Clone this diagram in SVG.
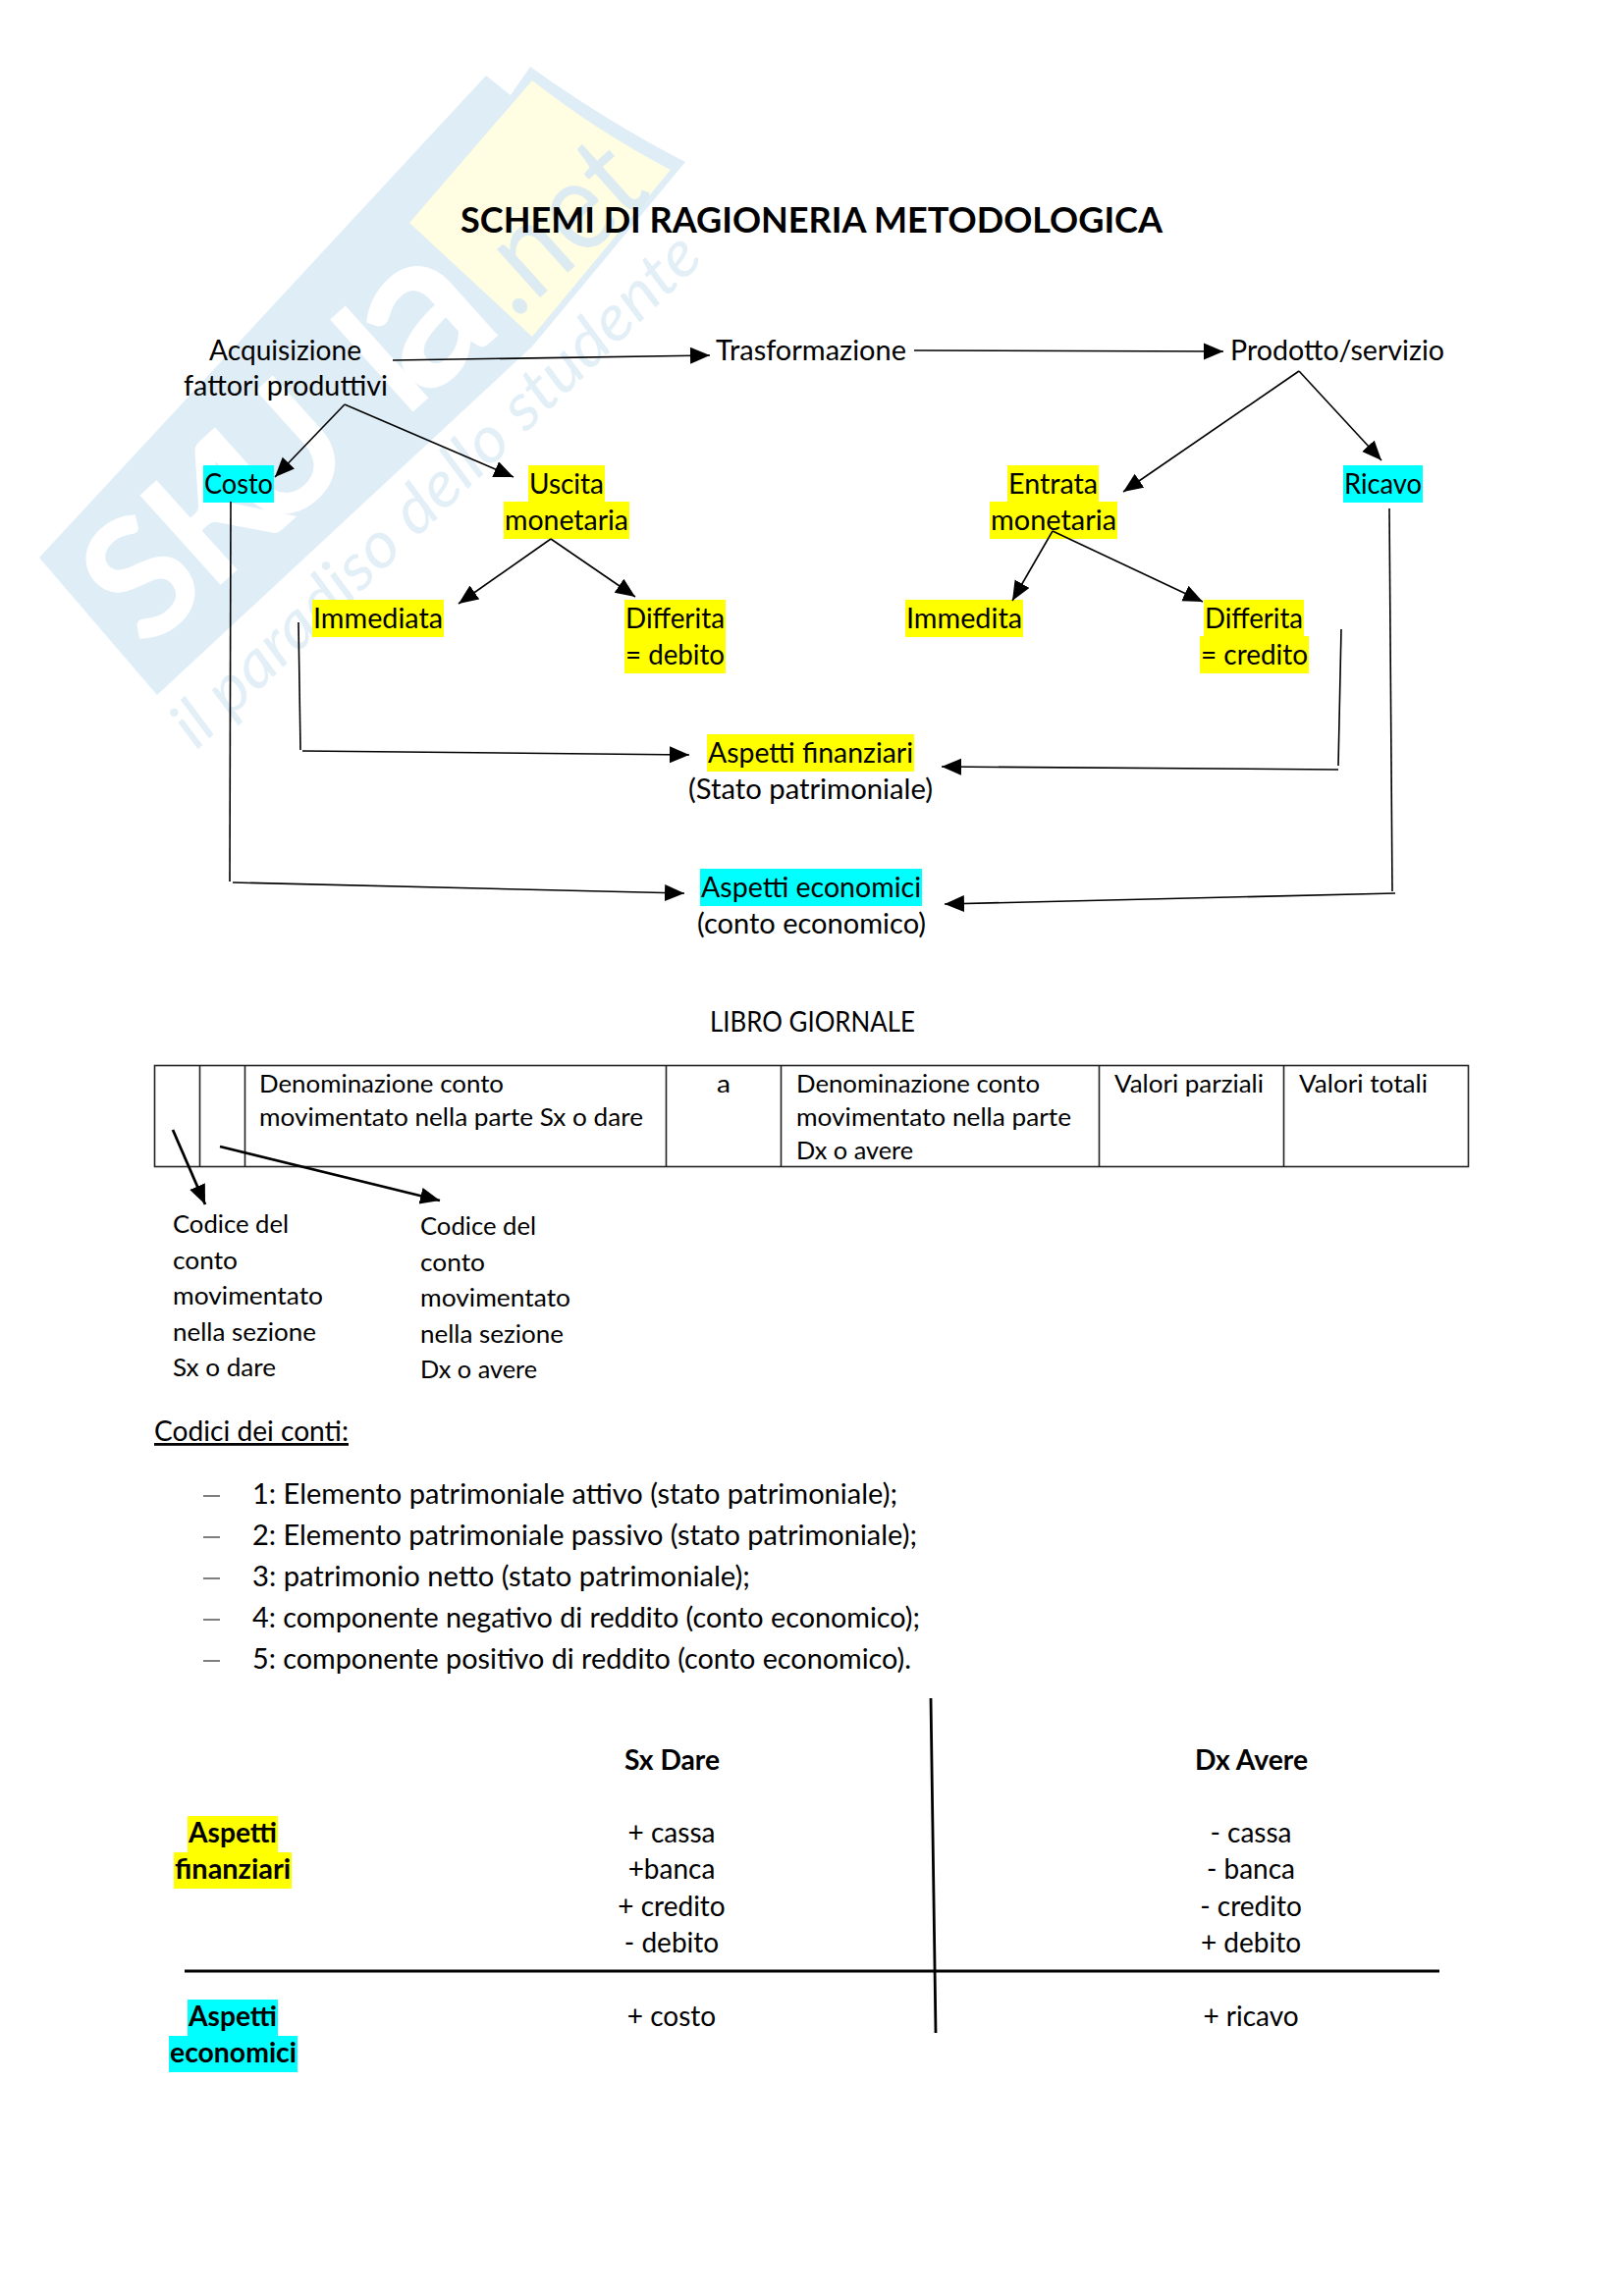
<svg xmlns="http://www.w3.org/2000/svg" width="1654" height="2339" viewBox="0 0 1654 2339">
<style>
text{font-family:Lato,"Liberation Sans",sans-serif;font-size:28px;fill:#000}
.t{font-size:25.5px}
.b{font-weight:700}
.y{fill:#ffff00}
.c{fill:#0ff}
.l{fill:none;stroke:#000;stroke-width:1.6}
.a{marker-end:url(#ah)}
.h{stroke-width:2.8}
.tb{fill:none;stroke:#222;stroke-width:1.6}
.w{font-weight:700;font-size:170px;fill:#fff}
.s{font-style:italic;font-size:66px;fill:#e3eff7}
</style>
<defs>
<marker id="ah" markerUnits="userSpaceOnUse" markerWidth="22" markerHeight="18" refX="20" refY="8.500" orient="auto"><path d="M0 0L20 8.500L0 17z" fill="#000"/></marker>
</defs>
<rect width="1654" height="2339" fill="#fff"/>
<g id="watermark">
<path d="M40 568L495 77L520 97L540 68Q620 125 698 165L542 353L160 708z" fill="#deedf6"/>
<path d="M542 82Q610 135 683 173L542 343L417 227z" fill="#fffde2"/>
<g transform="translate(149 664) rotate(-42)">
<text class="w" x="0 88 170 355">SKUl</text>
<text class="w" x="380" style="font-size:225px">a</text>
<text class="b" x="505" textLength="190" lengthAdjust="spacingAndGlyphs" style="font-size:130px;font-weight:400;fill:#dcebf2">.net</text>
</g>
<text class="s" transform="translate(200 765) rotate(-44)" textLength="720" lengthAdjust="spacingAndGlyphs">il paradiso dello studente</text>
</g>
<g id="title"><text class="b" x="469" y="237" style="font-size:36px" textLength="715" lengthAdjust="spacingAndGlyphs">SCHEMI DI RAGIONERIA METODOLOGICA</text></g>
<g id="n-acquisizione"><text x="213" y="367" textLength="155" lengthAdjust="spacingAndGlyphs">Acquisizione</text><text x="187" y="403" textLength="208" lengthAdjust="spacingAndGlyphs">fattori produttivi</text></g>
<g id="n-trasformazione"><text x="729" y="367" textLength="194" lengthAdjust="spacingAndGlyphs">Trasformazione</text></g>
<g id="n-prodotto"><text x="1253" y="367" textLength="218" lengthAdjust="spacingAndGlyphs">Prodotto/servizio</text></g>
<g id="n-costo"><rect class="c" x="207" y="474" width="72" height="38"/><text x="208" y="503" textLength="70" lengthAdjust="spacingAndGlyphs">Costo</text></g>
<g id="n-uscita"><rect class="y" x="538" y="474" width="78" height="38"/><rect class="y" x="513" y="511" width="128" height="38"/><text x="539" y="503" textLength="76" lengthAdjust="spacingAndGlyphs">Uscita</text><text x="514" y="540" textLength="126" lengthAdjust="spacingAndGlyphs">monetaria</text></g>
<g id="n-immediata"><rect class="y" x="318" y="611" width="134" height="38"/><text x="319" y="640" textLength="132" lengthAdjust="spacingAndGlyphs">Immediata</text></g>
<g id="n-differita-debito"><rect class="y" x="636" y="611" width="103" height="75"/><text x="637" y="640" textLength="101" lengthAdjust="spacingAndGlyphs">Differita</text><text x="637" y="677" textLength="101" lengthAdjust="spacingAndGlyphs">= debito</text></g>
<g id="n-entrata"><rect class="y" x="1026" y="474" width="93" height="38"/><rect class="y" x="1008" y="511" width="130" height="38"/><text x="1027" y="503" textLength="91" lengthAdjust="spacingAndGlyphs">Entrata</text><text x="1009" y="540" textLength="128" lengthAdjust="spacingAndGlyphs">monetaria</text></g>
<g id="n-ricavo"><rect class="c" x="1368" y="474" width="81" height="38"/><text x="1369" y="503" textLength="79" lengthAdjust="spacingAndGlyphs">Ricavo</text></g>
<g id="n-immedita"><rect class="y" x="922" y="611" width="120" height="38"/><text x="923" y="640" textLength="118" lengthAdjust="spacingAndGlyphs">Immedita</text></g>
<g id="n-differita-credito"><rect class="y" x="1226" y="611" width="102" height="38"/><rect class="y" x="1222" y="648" width="111" height="38"/><text x="1227" y="640" textLength="100" lengthAdjust="spacingAndGlyphs">Differita</text><text x="1223" y="677" textLength="109" lengthAdjust="spacingAndGlyphs">= credito</text></g>
<g id="n-finanziari"><rect class="y" x="720" y="748" width="211" height="38"/><text x="721" y="777" textLength="209" lengthAdjust="spacingAndGlyphs">Aspetti finanziari</text><text x="701" y="814" textLength="249" lengthAdjust="spacingAndGlyphs">(Stato patrimoniale)</text></g>
<g id="n-economici"><rect class="c" x="713" y="885" width="226" height="38"/><text x="714" y="914" textLength="224" lengthAdjust="spacingAndGlyphs">Aspetti economici</text><text x="710" y="951" textLength="233" lengthAdjust="spacingAndGlyphs">(conto economico)</text></g>
<g id="libro-giornale"><text x="723" y="1051" textLength="209" lengthAdjust="spacingAndGlyphs">LIBRO GIORNALE</text>
<rect class="tb" x="157.500" y="1085.500" width="1338" height="103"/>
<path class="tb" d="M203.500 1085V1189M249.500 1085V1189M678.500 1085V1189M795.500 1085V1189M1119.500 1085V1189M1307.500 1085V1189"/>
<text class="t" x="264" y="1113" textLength="249" lengthAdjust="spacingAndGlyphs">Denominazione conto</text>
<text class="t" x="264" y="1147" textLength="391" lengthAdjust="spacingAndGlyphs">movimentato nella parte Sx o dare</text>
<text class="t" x="730" y="1113" textLength="14" lengthAdjust="spacingAndGlyphs">a</text>
<text class="t" x="811" y="1113" textLength="248" lengthAdjust="spacingAndGlyphs">Denominazione conto</text>
<text class="t" x="811" y="1147" textLength="280" lengthAdjust="spacingAndGlyphs">movimentato nella parte</text>
<text class="t" x="811" y="1181" textLength="119" lengthAdjust="spacingAndGlyphs">Dx o avere</text>
<text class="t" x="1135" y="1113" textLength="152" lengthAdjust="spacingAndGlyphs">Valori parziali</text>
<text class="t" x="1323" y="1113" textLength="131" lengthAdjust="spacingAndGlyphs">Valori totali</text></g>
<g id="n-codice-sx">
<text class="t" x="176" y="1256" textLength="118" lengthAdjust="spacingAndGlyphs">Codice del</text>
<text class="t" x="176" y="1293" textLength="66" lengthAdjust="spacingAndGlyphs">conto</text>
<text class="t" x="176" y="1329" textLength="153" lengthAdjust="spacingAndGlyphs">movimentato</text>
<text class="t" x="176" y="1366" textLength="146" lengthAdjust="spacingAndGlyphs">nella sezione</text>
<text class="t" x="176" y="1402" textLength="105" lengthAdjust="spacingAndGlyphs">Sx o dare</text></g>
<g id="n-codice-dx">
<text class="t" x="428" y="1258" textLength="118" lengthAdjust="spacingAndGlyphs">Codice del</text>
<text class="t" x="428" y="1295" textLength="66" lengthAdjust="spacingAndGlyphs">conto</text>
<text class="t" x="428" y="1331" textLength="153" lengthAdjust="spacingAndGlyphs">movimentato</text>
<text class="t" x="428" y="1368" textLength="146" lengthAdjust="spacingAndGlyphs">nella sezione</text>
<text class="t" x="428" y="1404" textLength="119" lengthAdjust="spacingAndGlyphs">Dx o avere</text></g>
<g id="codici"><text x="157" y="1468" textLength="198" lengthAdjust="spacingAndGlyphs" text-decoration="underline">Codici dei conti:</text>
<path d="M207 1524H224M207 1566H224M207 1608H224M207 1650H224M207 1692H224" stroke="#555" stroke-width="1.500" fill="none"/>
<text x="257" y="1532" textLength="657" lengthAdjust="spacingAndGlyphs">1: Elemento patrimoniale attivo (stato patrimoniale);</text>
<text x="257" y="1574" textLength="677" lengthAdjust="spacingAndGlyphs">2: Elemento patrimoniale passivo (stato patrimoniale);</text>
<text x="257" y="1616" textLength="507" lengthAdjust="spacingAndGlyphs">3: patrimonio netto (stato patrimoniale);</text>
<text x="257" y="1658" textLength="680" lengthAdjust="spacingAndGlyphs">4: componente negativo di reddito (conto economico);</text>
<text x="257" y="1700" textLength="671" lengthAdjust="spacingAndGlyphs">5: componente positivo di reddito (conto economico).</text></g>
<g id="mastrino">
<path class="l h" d="M948 1730L953 2071M188 2008H1466"/>
<text class="b" x="636" y="1803" textLength="97" lengthAdjust="spacingAndGlyphs">Sx Dare</text>
<text class="b" x="1217" y="1803" textLength="115" lengthAdjust="spacingAndGlyphs">Dx Avere</text>
<g text-anchor="middle">
<text x="684" y="1877">+ cassa</text><text x="684" y="1914">+banca</text><text x="684" y="1952">+ credito</text><text x="684" y="1989">- debito</text><text x="684" y="2064">+ costo</text>
<text x="1274" y="1877">- cassa</text><text x="1274" y="1914">- banca</text><text x="1274" y="1952">- credito</text><text x="1274" y="1989">+ debito</text><text x="1274" y="2064">+ ricavo</text>
</g>
<rect class="y" x="191" y="1850" width="92" height="38"/><rect class="y" x="177" y="1887" width="120" height="37"/>
<text class="b" x="192" y="1877" textLength="90" lengthAdjust="spacingAndGlyphs">Aspetti</text><text class="b" x="178" y="1914" textLength="118" lengthAdjust="spacingAndGlyphs">finanziari</text>
<rect class="c" x="191" y="2037" width="92" height="38"/><rect class="c" x="172" y="2074" width="131" height="37"/>
<text class="b" x="192" y="2064" textLength="90" lengthAdjust="spacingAndGlyphs">Aspetti</text><text class="b" x="173" y="2101" textLength="129" lengthAdjust="spacingAndGlyphs">economici</text>
</g>
<g id="connectors">
<path class="l a" d="M400 367L723 362"/>
<path class="l a" d="M931 357L1246 358"/>
<path class="l a" d="M351 412L280 486"/>
<path class="l a" d="M351 412L523 486"/>
<path class="l a" d="M561 549L467 615"/>
<path class="l a" d="M561 549L647 608"/>
<path class="l a" d="M1323 378L1144 501"/>
<path class="l a" d="M1323 378L1407 469"/>
<path class="l a" d="M1072 541L1031 612"/>
<path class="l a" d="M1072 541L1225 613"/>
<path class="l" d="M304 634L306 764"/>
<path class="l a" d="M308 765L702 769"/>
<path class="l" d="M1366 641L1363 780"/>
<path class="l a" d="M1363 784L959 781"/>
<path class="l" d="M235 511L234 898"/>
<path class="l a" d="M237 899L697 910"/>
<path class="l" d="M1415 518L1418 908"/>
<path class="l a" d="M1421 910L962 921"/>
<path class="l a h" d="M176 1151L209 1227"/>
<path class="l a h" d="M224 1168L448 1223"/>
</g>
</svg>
